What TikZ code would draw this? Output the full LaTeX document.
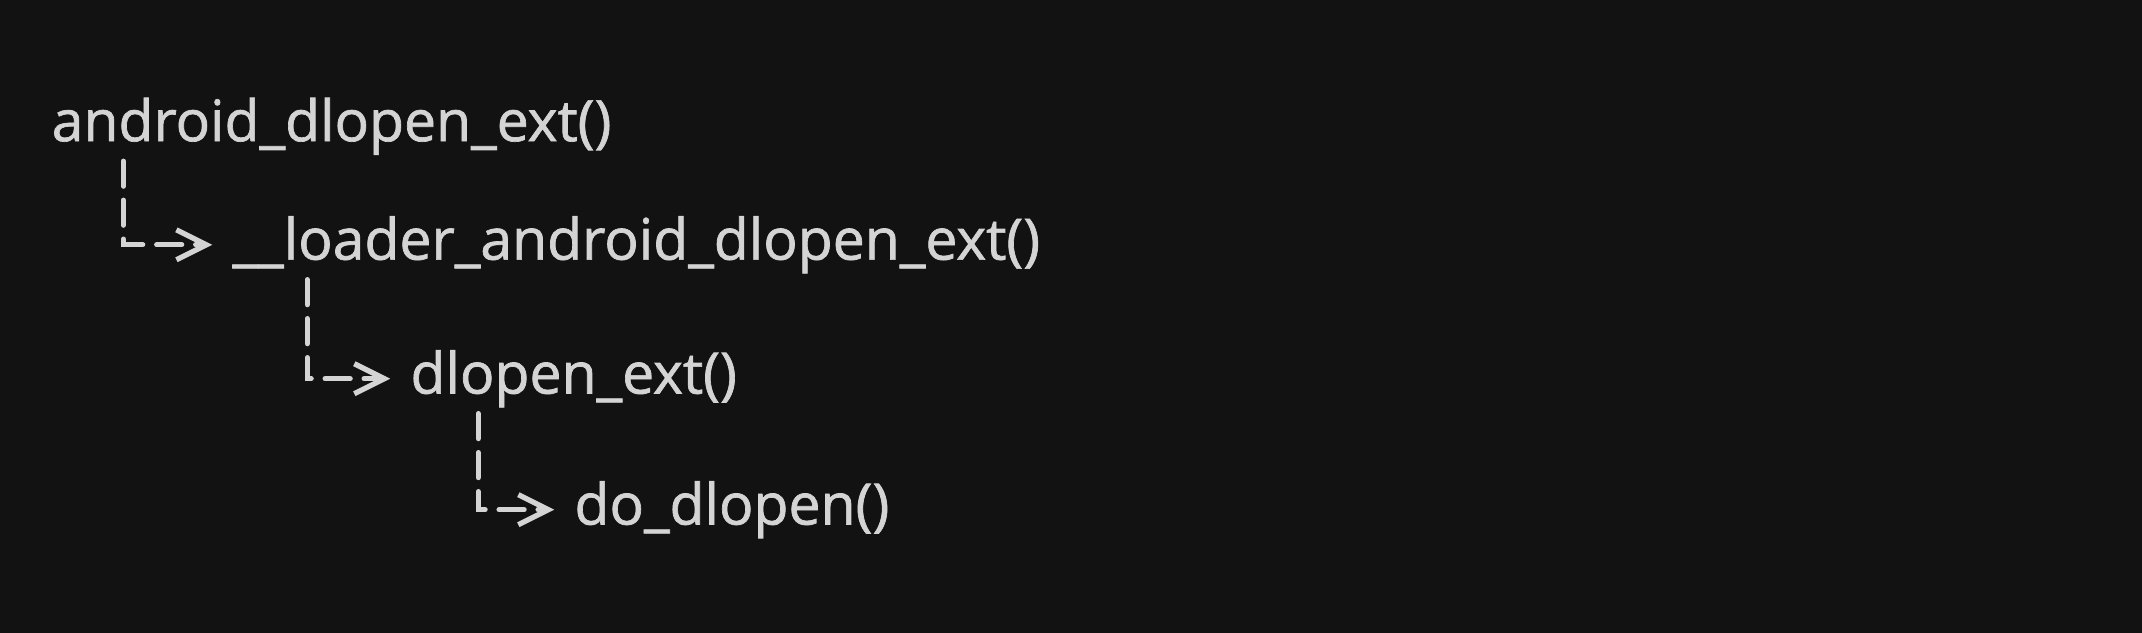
\documentclass[tikz,border=0pt]{standalone}
\usepackage{fontspec}
\setmainfont[FakeBold=1.2]{Open Sans}
\usepackage{xcolor}
\usetikzlibrary{arrows.meta}
\definecolor{bgdark}{HTML}{121212}
\definecolor{chalk}{HTML}{D4D4D4}
\begin{document}
\begin{tikzpicture}[
  fname/.style={anchor=west,inner sep=0pt,text=chalk,font=\fontsize{32.5}{38}\selectfont},
  calls/.style={chalk,line width=3pt,line cap=round,dash pattern=on 0.5cm off 0.28cm,
    -{Straight Barb[length=0.6cm,width=0.6cm,line width=3pt]},shorten >=0.4cm}
]
\draw[fill=bgdark,bgdark] (0,0) rectangle (42.84,12.64); %background
\node[fname] (dlext)  at (1.02,10.12) {android\_dlopen\_ext()};
\node[fname] (loader) at (4.64,7.75)  {\_\_loader\_android\_dlopen\_ext()};
\node[fname] (plain)  at (8.2,5.07)   {dlopen\_ext()};
\node[fname] (dodl)   at (11.48,2.45) {do\_dlopen()};
% call chain
\coordinate (t1) at ([xshift=1.44cm,yshift=-0.12cm]dlext.south west);
\coordinate (t2) at ([xshift=1.5cm,yshift=-0.12cm]loader.south west);
\coordinate (t3) at ([xshift=1.36cm,yshift=-0.12cm]plain.south west);
\draw[calls] (t1) |- (loader.west);
\draw[calls] (t2) |- (plain.west);
\draw[calls] (t3) |- (dodl.west);
\end{tikzpicture}
\end{document}
